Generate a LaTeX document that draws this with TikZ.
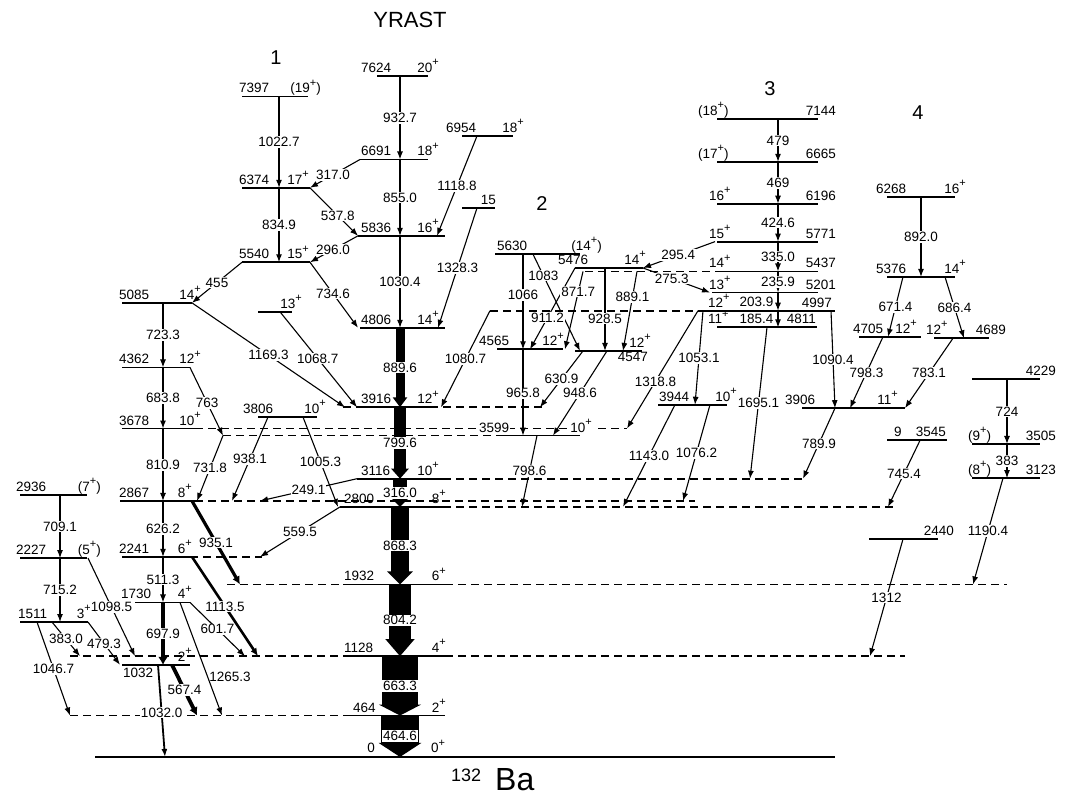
\documentclass[tikz,border=0pt]{standalone}
\usepackage{fontspec}
\setmainfont{Liberation Sans}
\usetikzlibrary{arrows.meta}
\newcommand{\pp}{\raisebox{.5em}{\fontsize{11}{11}\selectfont+}}
\tikzset{
  lev/.style={line width=1.8pt},
  dlev/.style={line width=1.8pt, dash pattern=on 8pt off 5pt},
  tr/.style={line width=1.1pt, -{Latex[length=8pt,width=6pt]}},
  lab/.style={fill=white, inner sep=1pt},
  band/.style={font=\fontsize{20}{22}\selectfont, anchor=base},
}
\begin{document}
\begin{tikzpicture}[x=1pt, y=0.0893pt, every node/.style={font=\fontsize{13.5}{15}\selectfont, inner sep=1pt}]
\useasboundingbox (0,-515) rectangle (1066,8477);
\draw[lev] (95,0) -- (835,0);
\node[anchor=base east, yshift=4pt] (g0) at (376,0) {0};
\node[anchor=base west, yshift=4pt] (s0) at (430,0) {0\pp};
\foreach \a/\b/\e in {70/343/464, 70/343/1128, 445/905/1128, 227/343/1932, 445/1007/1932, 190/262/2241,
  443/893/2800, 195/695/2867, 443/802/3116, 223/497/3599, 195/627/3678, 343/357/3916, 430/543/3916,
  490/703/4997, 585/717/5437}
  \draw[dlev] (\a,\e) -- (\b,\e);
\foreach \a/\b/\e/\p/\l/\q/\r in {242/308/7397/238/7397/322/(19\pp), 242/310/6374/238/6374/310/17\pp,
  242/310/5540/238/5540/310/15\pp, 122/192/5085/118/5085/202/14\pp, 122/190/4362/118/4362/202/12\pp,
  122/195/3678/118/3678/202/10\pp, 120/195/2867/118/2867/193/8\pp, 122/190/2241/118/2241/193/6\pp,
  135/190/1730/120/1730/193/4\pp, 122/190/1032/122//193/2\pp, 20/87/2936/15/2936/102/(7\pp),
  20/87/2227/15/2227/102/(5\pp), 20/88/1511/17/1511/92/3\pp, 258/317/3806/242/3806/327/10\pp,
  258/292/4985/258//303/13\pp, 377/428/7624/360/7624/440/20\pp, 360/428/6691/360/6691/440/18\pp,
  358/445/5836/360/5836/440/16\pp, 360/445/4806/360/4806/440/14\pp, 357/430/3916/360/3916/440/12\pp,
  357/443/3116/360/3116/440/10\pp, 340/443/2800/343/2800/447/8\pp, 343/445/1932/343/1932/447/6\pp,
  343/445/1128/343/1128/447/4\pp, 343/445/464/352/464/447/2\pp, 462/513/6954/445/6954/525/18\pp,
  462/495/6148/462//497/15, 495/580/5630/496/5630/603/(14\pp), 575/643/5476/557/5476/647/14\pp,
  497/563/4565/478/4565/565/12\pp, 575/642/4547/575//652/12\pp,
  717/818/7144/697/(18\pp)/837/7144, 717/818/6665/697/(17\pp)/837/6665, 717/818/6196/708/16\pp/837/6196,
  717/818/5771/708/15\pp/837/5771, 717/818/5437/708/14\pp/837/5437, 712/818/5201/708/13\pp/837/5201,
  703/835/4997/707/12\pp/833/4997, 717/817/4811/707/11\pp/817/4811,
  887/955/6268/875/6268/967/16\pp, 887/955/5376/875/5376/967/14\pp, 859/921/4705/852/4705/918/12\pp,
  934/989/4689/925/12\pp/1007/4689, 802/905/3906/784/3906/899/11\pp, 658/727/3944/658/3944/738/10\pp,
  887/947/3545/893/9/947/3545, 972/1040/4229/972//1057/4229, 972/1040/3505/967/(9\pp)/1057/3505,
  972/1040/3123/967/(8\pp)/1057/3123, 869/938/2440/869//955/2440}
{
  \draw[lev] (\a,\e) -- (\b,\e);
  \node[anchor=base west, yshift=3.5pt] (e\e) at (\p,\e) {\l};
  \node[anchor=base east, yshift=3.5pt] (s\e) at (\q,\e) {\r};
}
\draw[lev] (497,3599) -- (580,3599);
\node[lab, anchor=base west, yshift=3.5pt] (e3599) at (478,3599) {3599};
\node[lab, anchor=base east, yshift=3.5pt] (s3599) at (593,3599) {10\pp};
\node[anchor=base west, yshift=-13pt] (e1032) at (122,1032) {1032};
\node[anchor=base east, yshift=-11pt] (e4547) at (649,4547) {4547};
\foreach \xa/\ea/\xb/\eb/\p/\tx in {279/7397/279/6374/.5/1022.7, 279/6374/279/5540/.5/834.9,
  163/5085/163/4362/.5/723.3, 163/4362/163/3678/.5/683.8, 163/3678/163/2867/.5/810.9,
  163/2867/163/2241/.5/626.2, 163/2241/163/1730/.5/511.3, 242/5540/192/5085/.5/455,
  360/6691/310/6374/.54/317.0, 310/6374/358/5836/.58/537.8, 358/5836/310/5540/.52/296.0,
  310/5540/358/4806/.48/734.6, 192/5085/345/3916/.5/1169.3, 280/4985/357/3916/.49/1068.7,
  477/6954/437/5836/.5/1118.8, 477/6148/438/4806/.5/1328.3, 190/4362/223/3599/.52/763,
  223/3599/197/2867/.5/731.8, 268/3806/232/2867/.5/938.1, 303/3806/338/2800/.5/1005.3,
  357/3116/260/2867/.5/249.1, 340/2800/260/2241/.5/559.5, 190/1730/245/1128/.5/601.7,
  88/2227/135/1128/.5/1098.5, 52/1511/80/1128/.5/383.0, 88/1511/120/1032/.5/479.3,
  37/1511/70/464/.5/1046.7, 60/2936/60/2227/.5/709.1, 60/2227/60/1511/.5/715.2,
  400/7624/400/6691/.5/932.7, 400/6691/400/5836/.5/855.0, 400/5836/400/4806/.5/1030.4,
  523/5630/523/4565/.43/1066, 523/4565/523/3599/.51/965.8, 533/5630/580/4547/.22/1083,
  575/5476/530/4565/.61/911.2, 583/5437/565/4565/.26/871.7, 637/5437/623/4547/.32/889.1,
  605/5476/605/4547/.61/928.5, 583/4547/540/3916/.5/630.9, 607/4547/553/3599/.5/948.6,
  537/3599/522/2800/.5/798.6, 715/5771/643/5476/.51/295.4, 643/5476/710/5201/.43/275.3,
  490/4997/441/3916/.5/1080.7, 698/4997/627/3678/.6/1318.8, 703/4997/695/3944/.5/1053.1,
  831/4997/835/3906/.5/1090.4, 767/4811/750/3116/.5/1695.1, 675/3944/623/2800/.5/1143.0,
  710/3944/683/2867/.5/1076.2, 835/3906/803/3116/.5/789.9, 883/4705/850/3906/.5/798.3,
  953/4689/905/3906/.5/783.1, 903/5376/888/4705/.5/671.4, 945/5376/964/4689/.5/686.4,
  921/6268/921/5376/.5/892.0, 920/3545/888/2800/.5/745.4, 1007/4229/1007/3505/.5/724,
  1007/3505/1007/3123/.5/383, 1003/3123/973/1932/.5/1190.4, 903/2440/870/1128/.5/1312,
  778/7144/778/6665/.5/479, 778/6665/778/6196/.5/469, 778/6196/778/5771/.5/424.6,
  778/5771/778/5437/.5/335.0, 778/5437/778/5201/.5/235.9}
  \draw[tr] (\xa,\ea) -- node[lab, pos=\p] {\tx} (\xb,\eb);
\draw[tr] (778,5201) -- node[anchor=east, xshift=-3pt] {203.9} (778,4997);
\draw[tr] (778,4997) -- node[anchor=east, xshift=-3pt] {185.4} (778,4811);
\draw[tr] (180,1730) -- node[pos=.66, anchor=west] {1265.3} (222,464);
\draw[tr, line width=1.8pt] (158,1032) -- node[lab, pos=.52] {1032.0} (165,0);
\draw[line width=4.5pt, -{Latex[length=8pt,width=10pt]}] (163,1730) -- node[lab] {697.9} (163,1032);
\draw[line width=3.8pt, -{Latex[length=8pt,width=9pt]}] (172,1032) -- node[lab] {567.4} (197,464);
\draw[line width=3.2pt, -{Latex[length=8pt,width=8pt]}] (192,2867) -- node[lab] {935.1} (240,1932);
\draw[line width=2.6pt, -{Latex[length=8pt,width=7pt]}] (192,2241) -- node[lab] {1113.5} (258,1128);
\foreach \ea/\eb/\w/\hw/\hl/\tx in {4806/3916/9/14/10/889.6, 3916/3116/12/17/10/799.6, 3116/2800/14/19/10/316.0,
  2800/1932/18/25/13/868.3, 1932/1128/22/28/17/804.2, 1128/464/36/42/11/663.3, 464/0/38/42/14/464.6}
  \draw[line width=\w pt, -{Triangle[length=\hl pt, width=\hw pt]}] (400,\ea) -- node[lab] {\tx} (400,\eb);
\node[font=\fontsize{22}{24}\selectfont, anchor=base] (yrast) at (410,8164) {YRAST};
\foreach \x/\e/\n in {276/7760/1, 542/6121/2, 770/7402/3, 918/7144/4}
  \node[band] (band\n) at (\x,\e) {\n};
\node[font=\fontsize{18}{20}\selectfont, anchor=base west] (mass) at (450,-276) {132};
\node[font=\fontsize{32}{34}\selectfont, anchor=base west] (nucl) at (494,-381) {Ba};
\end{tikzpicture}
\end{document}
